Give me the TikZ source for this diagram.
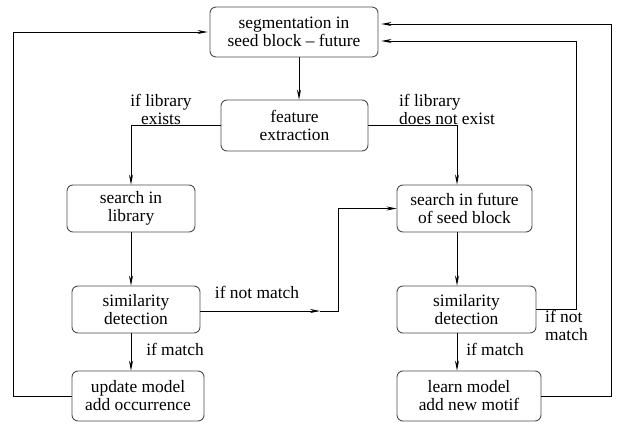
\documentclass[tikz,border=0pt]{standalone}
\usepackage{fontspec}
\setmainfont{Liberation Serif}
\usetikzlibrary{arrows.meta}
\begin{document}
\begin{tikzpicture}[
                x=1pt, y=-1pt,
                font=\fontsize{17.4}{18}\selectfont,
                box/.style={draw=black!70, line width=0.9pt, rounded corners=6pt, align=center, inner sep=0pt},
                link/.style={line width=0.8pt, -{Stealth[length=10pt,width=4pt]}},
                lbl/.style={align=center, inner sep=0pt}
            ]
            \useasboundingbox (0,0) rectangle (621,428);
            \node[box, minimum width=168pt, minimum height=50pt] (seg) at (294,32) {segmentation in\\seed block – future};
            \node[box, minimum width=147pt, minimum height=51pt] (feat) at (294.5,125.5) {feature\\extraction};
            \node[box, minimum width=128pt, minimum height=47pt] (lib) at (131,208.5) {search in\\library};
            \node[box, minimum width=135pt, minimum height=47pt] (fut) at (464.5,208.5) {search in future\\of seed block};
            \node[box, minimum width=128pt, minimum height=47pt] (siml) at (136,309.5) {similarity\\detection};
            \node[box, minimum width=139pt, minimum height=47pt] (simr) at (466.5,309.5) {similarity\\detection};
            \node[box, minimum width=132pt, minimum height=50pt] (upd) at (138,396) {update model\\add occurrence};
            \node[box, minimum width=144pt, minimum height=50pt] (learn) at (469,396) {learn model\\add new motif};
            \coordinate (colL) at (131,0);
            \coordinate (colM) at (299,0);
            \coordinate (colR) at (457,0);
            \coordinate (mid) at (320,311);
            \coordinate (bend) at (338,311);
            \coordinate (hookA) at (576,41);
            \coordinate (hookB) at (611,24);
            \coordinate (hookC) at (13,32);
            \draw[link] (seg.south -| colM) -- (feat.north -| colM);
            \draw[link] (feat.west) -| (lib.north -| colL);
            \draw[link] (feat.east) -| (fut.north -| colR);
            \draw[link] (lib.south -| colL) -- (siml.north -| colL);
            \draw[link] (fut.south -| colR) -- (simr.north -| colR);
            \draw[link] (siml.south -| colL) -- (upd.north -| colL);
            \draw[link] (simr.south -| colR) -- (learn.north -| colR);
            \draw[link] (siml.east |- mid) -- (mid);
            \draw[link] (mid) -- (bend) |- (fut.west);
            \draw[link, shorten >=3pt] (simr.east) -| (hookA) -- (seg.east |- hookA);
            \draw[link, shorten >=3pt] (learn.east) -| (hookB) -- (seg.east |- hookB);
            \draw[link, shorten >=2pt] (upd.west) -| (hookC) -- (seg.west |- hookC);
            \node[lbl] (libyes) at (161,109) {if library\\exists};
            \node[lbl, align=left] (libno) at (447,109) {if library\\does not exist};
            \node[lbl] (nomatchL) at (257,292) {if not match};
            \node[lbl] (matchL) at (175,349) {if match};
            \node[lbl] (matchR) at (495,349) {if match};
            \node[lbl, align=left, anchor=west] (nomatchR) at (545,325) {if not\\match};
        \end{tikzpicture}
\end{document}
